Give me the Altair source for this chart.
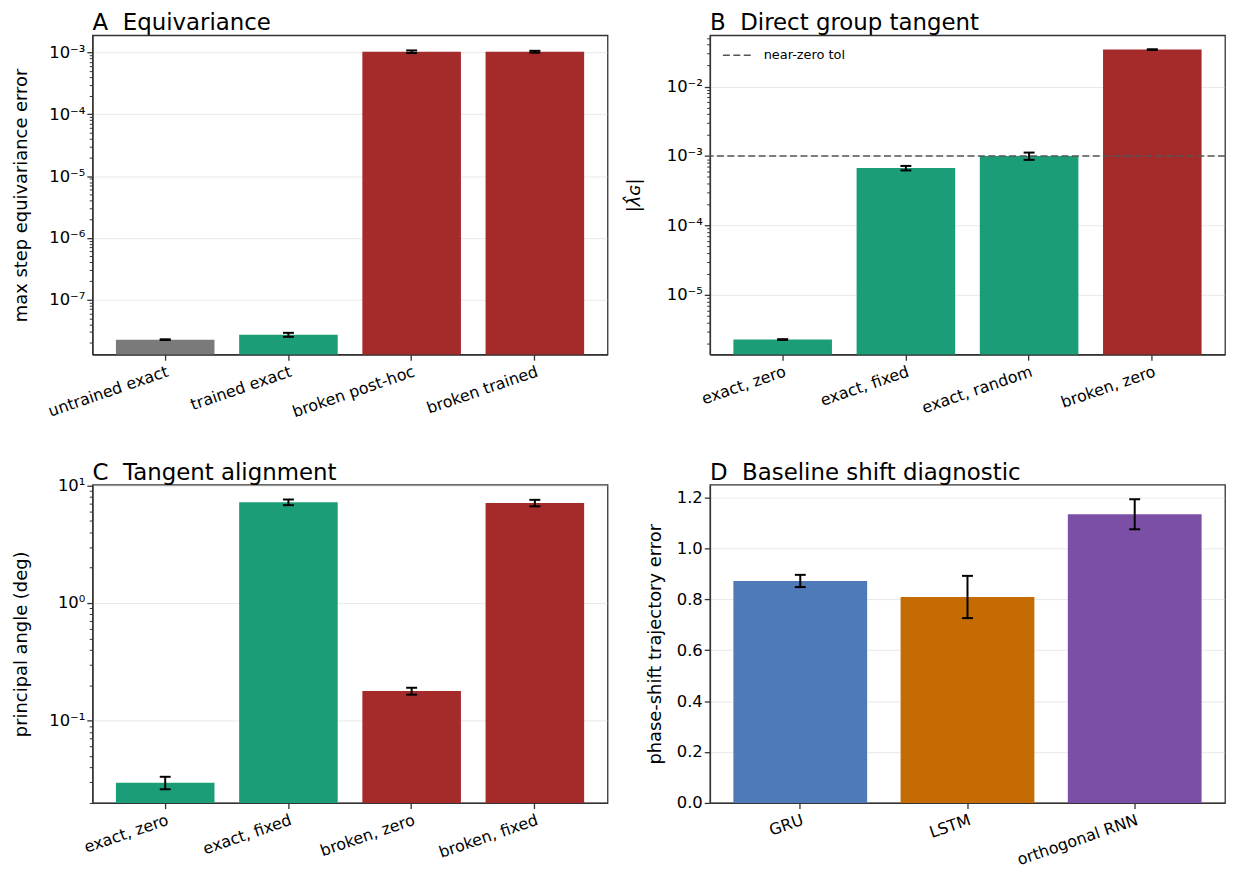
import math
import altair as alt
import pandas as pd

# ---------------- data ----------------
kind_domain = ["untrained", "exact", "broken"]
kind_colors = ["#7a7a7a", "#1b9e77", "#a52a2a"]

a_labels = ["untrained exact", "trained exact", "broken post-hoc", "broken trained"]
a_kind = ["untrained", "exact", "broken", "broken"]
a_mean = [2.25e-8, 2.7e-8, 1.03e-3, 1.03e-3]
a_err = [0.03e-8, 0.2e-8, 0.05e-3, 0.035e-3]
a_exps = [-7, -6, -5, -4, -3]
a_domain = [1.294e-8, 1.897e-3]

b_labels = ["exact, zero", "exact, fixed", "exact, random", "broken, zero"]
b_kind = ["exact", "exact", "exact", "broken"]
b_mean = [2.28e-6, 6.7e-4, 1.0e-3, 3.4e-2]
b_err = [0.03e-6, 0.5e-4, 0.12e-3, 0.04e-2]
b_exps = [-5, -4, -3, -2]
b_domain = [1.39e-6, 5.46e-2]
b_tol = [1e-3]
b_tol_name = ["near-zero tol"]

c_labels = ["exact, zero", "exact, fixed", "broken, zero", "broken, fixed"]
c_kind = ["exact", "exact", "broken", "broken"]
c_mean = [0.0296, 7.2, 0.178, 7.1]
c_err = [0.0036, 0.4, 0.012, 0.45]
c_exps = [-1, 0, 1]
c_domain = [0.0199, 10.15]

d_labels = ["GRU", "LSTM", "orthogonal RNN"]
d_mean = [0.872, 0.809, 1.134]
d_err = [0.024, 0.083, 0.059]
d_colors = ["#4f7ab8", "#c46b03", "#7b4fa6"]
d_ticks = [0.0, 0.2, 0.4, 0.6, 0.8, 1.0, 1.2]
d_domain = [0.0, 1.25]

W = 518
H = 321
H2 = 320
Y_FS = 16.5
X_FS = 16
ANGLE = 341
T_OFF = 0

SUP = str.maketrans("-0123456789", "\u207b\u2070\u00b9\u00b2\u00b3\u2074\u2075\u2076\u2077\u2078\u2079")


def pow_label(e):
    return "10" + str(e).translate(SUP)


def log_axis(exps, domain, title, extent, tpad, style="normal"):
    major = [10.0 ** e for e in exps]
    lo, hi = domain
    minor = []
    for k in range(math.floor(math.log10(lo)), math.ceil(math.log10(hi)) + 1):
        for m in range(2, 10):
            v = m * 10.0 ** k
            if lo <= v <= hi:
                minor.append(v)
    allv = sorted(major + minor)
    test = " || ".join(f"datum.value == {v!r}" for v in major)
    expr = " : ".join(f"datum.value == {v!r} ? '{pow_label(e)}'" for v, e in zip(major, exps)) + " : ''"
    return alt.Axis(
        values=allv, labelExpr=expr, title=title,
        tickSize={"condition": {"test": test, "value": 5.7}, "value": 3.3},
        tickWidth={"condition": {"test": test, "value": 1.3}, "value": 1.0},
        gridOpacity={"condition": {"test": test, "value": 0.4}, "value": 0},
        labelFontSize={"condition": {"test": test, "value": Y_FS}, "value": 0},
        minExtent=extent, maxExtent=extent, titlePadding=tpad,
        labelOverlap=False, labelFlush=False, titleFontStyle=style,
    )


def x_enc(labels, outer):
    return alt.X(
        "label:N", sort=labels,
        scale=alt.Scale(paddingInner=0.2, paddingOuter=outer),
        axis=alt.Axis(title=None, labelAngle=ANGLE, labelAlign="right", labelBaseline="top",
                      labelFontSize=X_FS, tickSize=5.7, tickWidth=1.3, labelPadding=3,
                      grid=False),
    )


def err_layers(df, x, yscale):
    rule = alt.Chart(df).mark_rule(color="black", strokeWidth=2).encode(
        x=x, y=alt.Y("lo:Q", scale=yscale), y2="hi:Q")
    cap_lo = alt.Chart(df).mark_tick(color="black", size=11, thickness=2, opacity=1).encode(
        x=x, y=alt.Y("lo:Q", scale=yscale))
    cap_hi = alt.Chart(df).mark_tick(color="black", size=11, thickness=2, opacity=1).encode(
        x=x, y=alt.Y("hi:Q", scale=yscale))
    return [rule, cap_lo, cap_hi]


def log_panel(labels, kinds, means, errs, exps, domain, ytitle, extent, tpad, style="normal"):
    df = pd.DataFrame({"label": labels, "kind": kinds, "mean": means, "err": errs})
    df["lo"] = df["mean"] - df["err"]
    df["hi"] = df["mean"] + df["err"]
    df["base"] = domain[0]
    x = x_enc(labels, 0.19)
    yscale = alt.Scale(type="log", domain=domain, nice=False)
    bars = alt.Chart(df).mark_bar().encode(
        x=x,
        y=alt.Y("mean:Q", scale=yscale, axis=log_axis(exps, domain, ytitle, extent, tpad, style)),
        y2="base:Q",
        color=alt.Color("kind:N", scale=alt.Scale(domain=kind_domain, range=kind_colors), legend=None),
    )
    return bars, err_layers(df, x, yscale), yscale


def ttl(text, offset):
    return alt.TitleParams(text, offset=offset)


# Panel A
a_bars, a_err_l, _ = log_panel(a_labels, a_kind, a_mean, a_err, a_exps, a_domain,
                               "max step equivariance error", 48, 14)
chart_a = alt.layer(a_bars, *a_err_l).properties(
    width=W, height=H, title=ttl("A\u00a0\u00a0Equivariance", T_OFF))

# Panel B
b_bars, b_err_l, b_scale = log_panel(b_labels, b_kind, b_mean, b_err, b_exps, b_domain,
                                     "|\u03bb\u0302\u0262|", 48, 19, style="italic")
tol_df = pd.DataFrame({"tol": b_tol, "name": b_tol_name})
tol_rule = alt.Chart(tol_df).mark_rule(color="#555555", strokeWidth=1.6).encode(
    y=alt.Y("tol:Q", scale=b_scale),
    strokeDash=alt.StrokeDash(
        "name:N", scale=alt.Scale(domain=b_tol_name, range=[[7, 3.5]]),
        legend=alt.Legend(title=None, orient="none", legendX=12, legendY=4,
                          symbolType="stroke", symbolSize=900, symbolStrokeWidth=1.6,
                          symbolStrokeColor="#555555", labelFontSize=13, labelColor="black",
                          labelOffset=10, padding=0),
    ),
)
chart_b = alt.layer(b_bars, *b_err_l, tol_rule).properties(
    width=W, height=H, title=ttl("B\u00a0\u00a0Direct group tangent", T_OFF))

# Panel C
c_bars, c_err_l, _ = log_panel(c_labels, c_kind, c_mean, c_err, c_exps, c_domain,
                               "principal angle (deg)", 48, 14)
chart_c = alt.layer(c_bars, *c_err_l).properties(
    width=W, height=H2, title=ttl("C\u00a0\u00a0Tangent alignment", T_OFF - 7))

# Panel D
d_df = pd.DataFrame({"label": d_labels, "mean": d_mean, "err": d_err})
d_df["lo"] = d_df["mean"] - d_df["err"]
d_df["hi"] = d_df["mean"] + d_df["err"]
d_x = x_enc(d_labels, 0.14)
d_scale = alt.Scale(domain=d_domain, nice=False, zero=True)
d_bars = alt.Chart(d_df).mark_bar().encode(
    x=d_x,
    y=alt.Y("mean:Q", scale=d_scale,
            axis=alt.Axis(values=d_ticks, format=".1f", title="phase-shift trajectory error",
                          minExtent=38, maxExtent=38, titlePadding=8, gridOpacity=0.4,
                          tickSize=5.7, tickWidth=1.3, labelFlush=False, labelOverlap=False)),
    color=alt.Color("label:N", scale=alt.Scale(domain=d_labels, range=d_colors), legend=None),
)
chart_d = alt.layer(d_bars, *err_layers(d_df, d_x, d_scale)).properties(
    width=W, height=H2, title=ttl("D\u00a0\u00a0Baseline shift diagnostic", T_OFF))

chart = alt.concat(
    chart_a, chart_b, chart_c, chart_d, columns=2,
    spacing={"row": 131, "column": 103}, bounds="flush",
).resolve_scale(
    color="independent", strokeDash="independent"
).resolve_legend(
    color="independent", strokeDash="independent"
).properties(
    padding={"left": 4, "top": 1, "right": 0, "bottom": 0}
).configure(
    font="DejaVu Sans"
).configure_view(
    stroke="#333333", strokeWidth=1.3
).configure_axis(
    labelFontSize=Y_FS, titleFontSize=18, titleFontWeight="normal",
    labelColor="black", titleColor="black", domainColor="#333333", domainWidth=1.3,
    tickColor="#333333", gridColor="#c8c8c8", zindex=1, labelFont="DejaVu Sans",
    titleFont="DejaVu Sans",
).configure_title(
    fontSize=23, fontWeight="normal", anchor="start", frame="group", color="black",
    font="DejaVu Sans",
)

chart.save("out.html", embed_options={"renderer": "svg", "actions": False})
